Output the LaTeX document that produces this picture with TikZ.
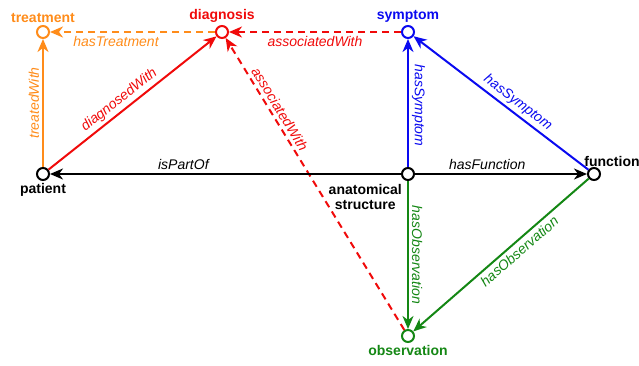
\documentclass[tikz,border=0pt]{standalone}
\usepackage{fontspec}
\setmainfont{Liberation Sans}
\usetikzlibrary{arrows.meta}
\definecolor{trtcol}{RGB}{255,140,26}
\definecolor{dgncol}{RGB}{240,10,10}
\definecolor{symcol}{RGB}{10,10,240}
\definecolor{obscol}{RGB}{20,135,20}
\begin{document}
\begin{tikzpicture}[x=1pt,y=-1pt,
    vtx/.style={circle,draw,fill=white,line width=2pt,minimum size=12pt,inner sep=0pt},
    vname/.style={font=\fontsize{14}{15}\selectfont\bfseries,align=center,inner sep=2pt},
    rel/.style={line width=2pt,-{Stealth[length=13pt,width=11pt,inset=4pt]}},
    dashrel/.style={rel,dash pattern=on 7pt off 5pt},
    lbl/.style={font=\fontsize{14}{15}\selectfont\itshape,inner sep=3pt}]
  \useasboundingbox (0,0) rectangle (639,366);
  \draw
    (43,32) node[vtx,draw=trtcol,label={[vname,text=trtcol]above:treatment}] (treatment){}
    (222,32) node[vtx,draw=dgncol,label={[vname,text=dgncol]above:diagnosis}] (diagnosis){}
    (408,32) node[vtx,draw=symcol,label={[vname,text=symcol]above:symptom}] (symptom){}
    (43,174) node[vtx,label={[vname]below:patient}] (patient){}
    (408,174) node[vtx,label={[vname,anchor=north east,xshift=1pt,yshift=-3pt]south west:anatomical\\structure}] (anatomy){}
    (594,174) node[vtx,label={[vname,xshift=18pt,yshift=-2pt]above:function}] (function){}
    (408,336) node[vtx,draw=obscol,label={[vname,text=obscol]below:observation}] (observation){};
  \begin{scope}[every node/.style={lbl}]
    \draw[rel,trtcol] (patient) to node[midway,sloped,above] {treatedWith} (treatment);
    \draw[dashrel,trtcol] (diagnosis) to node[pos=0.6,below] {hasTreatment} (treatment);
    \draw[rel,dgncol] (patient) to node[pos=0.46,sloped,above] {diagnosedWith} (diagnosis);
    \draw[dashrel,dgncol] (symptom) to node[midway,below] {associatedWith} (diagnosis);
    \draw[dashrel,dgncol] (observation) to node[pos=0.74,sloped,above] {associatedWith} (diagnosis);
    \draw[rel] (anatomy) to node[pos=0.62,above] {isPartOf} (patient);
    \draw[rel] (anatomy) to node[pos=0.42,above] {hasFunction} (function);
    \draw[rel,symcol] (anatomy) to node[pos=0.48,rotate=-90,anchor=south] {hasSymptom} (symptom);
    \draw[rel,symcol] (function) to node[pos=0.44,sloped,above] {hasSymptom} (symptom);
    \draw[rel,obscol] (anatomy) to node[midway,rotate=-90,anchor=south] {hasObservation} (observation);
    \draw[rel,obscol] (function) to node[pos=0.43,sloped,below] {hasObservation} (observation);
  \end{scope}
\end{tikzpicture}
\end{document}
